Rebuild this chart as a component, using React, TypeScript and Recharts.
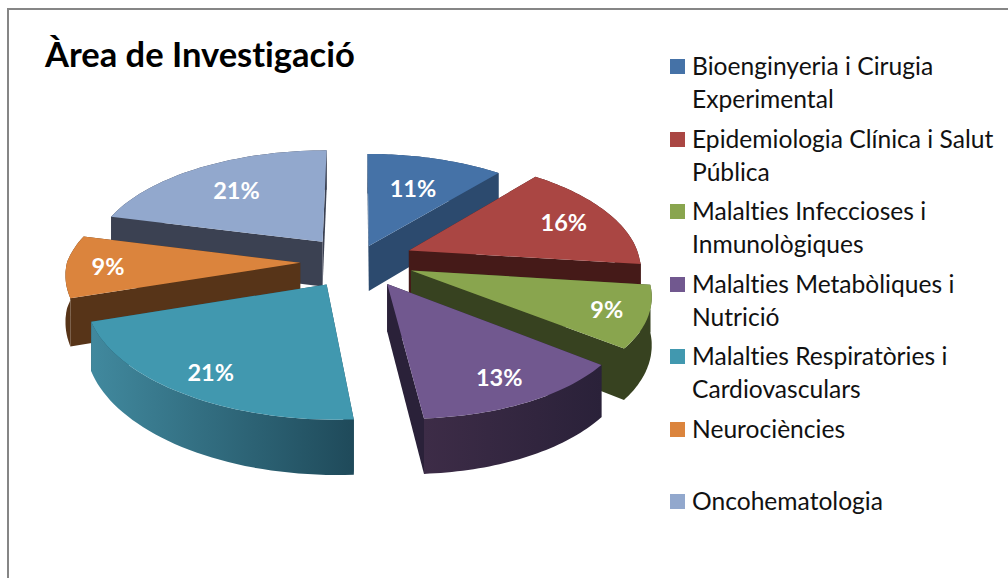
import React from 'react';
import { PieChart, Pie, Legend } from 'recharts';

const titleText = 'Àrea de Investigació';
const rightCategories = ['Bioenginyeria i Cirugia Experimental', 'Epidemiologia Clínica i Salut Pública', 'Malalties Infeccioses i Inmunològiques', 'Malalties Metabòliques i Nutrició'];
const rightValues = [11, 16, 9, 13];
const rightTops = ['#4572A7', '#AA4643', '#89A54E', '#71588F'];
const rightWallsA = ['#2C4A6E', '#451A18', '#374220', '#3D2C47'];
const rightWallsB = ['#2C4A6E', '#451A18', '#374220', '#2A2139'];
const leftCategories = ['Oncohematologia', 'Neurociències', 'Malalties Respiratòries i Cardiovasculars'];
const leftValues = [21, 9, 21];
const leftTops = ['#92A8CD', '#DB843D', '#4198AF'];
const leftWallsA = ['#3B4152', '#573418', '#41899E'];
const leftWallsB = ['#3B4152', '#573418', '#1F4A5A'];

const legendEntries = [
  { lines: ['Bioenginyeria i Cirugia', 'Experimental'], color: '#4572A7', top: 66 },
  { lines: ['Epidemiologia Clínica i Salut', 'Pública'], color: '#AA4643', top: 139 },
  { lines: ['Malalties Infeccioses i', 'Inmunològiques'], color: '#89A54E', top: 211 },
  { lines: ['Malalties Metabòliques i', 'Nutrició'], color: '#71588F', top: 284 },
  { lines: ['Malalties Respiratòries i', 'Cardiovasculars'], color: '#4198AF', top: 356 },
  { lines: ['Neurociències'], color: '#DB843D', top: 429 },
  { lines: ['Oncohematologia'], color: '#92A8CD', top: 501 },
];

const FONT = 'Lato, "Open Sans", sans-serif';
const SQUASH = 0.47;
const PERSP = 0.14;
const EXPLODE = 0.24;
const EXPLODE_FIRST = 0.14;
const DEPTH = 46;
const SKEW = 15;

const rightData = rightCategories.map((name, i) => ({ name, value: rightValues[i], top: rightTops[i], wallA: rightWallsA[i], wallB: rightWallsB[i] }));
const leftData = leftCategories.map((name, i) => ({ name, value: leftValues[i], top: leftTops[i], wallA: leftWallsA[i], wallB: leftWallsB[i] }));

const rad = (d: number) => (d * Math.PI) / 180;
const explodeOf = (mid: number) => (mid > 45 && mid < 90 ? EXPLODE_FIRST : EXPLODE);

function project(cx: number, cy: number, R: number, mid: number, angle: number, r: number, z: number) {
  const e = explodeOf(mid);
  const X = e * Math.cos(rad(mid)) + r * Math.cos(rad(angle));
  const F = -e * Math.sin(rad(mid)) - r * Math.sin(rad(angle));
  const s = 1 / (1 - PERSP * F);
  return [
    cx + R * X * s + SKEW * Math.max(0, F),
    cy + R * SQUASH * F * s + z * DEPTH * s,
  ];
}

const toPath = (pts: number[][]) => 'M' + pts.map((p) => p[0].toFixed(1) + ',' + p[1].toFixed(1)).join('L') + 'Z';

function Slice3D(props: any) {
  const { cx, cy, outerRadius, startAngle, endAngle, payload } = props;
  const item = payload ?? props;
  const mid = (startAngle + endAngle) / 2;
  const steps = 40;
  const arc = (z: number) => {
    const out: number[][] = [];
    for (let i = 0; i <= steps; i++) {
      out.push(project(cx, cy, outerRadius, mid, startAngle + ((endAngle - startAngle) * i) / steps, 1, z));
    }
    return out;
  };
  const topArc = arc(0);
  const bottomArc = arc(1);
  const apexTop = project(cx, cy, outerRadius, mid, mid, 0, 0);
  const apexBot = project(cx, cy, outerRadius, mid, mid, 0, 1);
  const id = 'wall-' + Math.round(mid + 400);
  const xs = topArc.map((p) => p[0]);
  return (
    <g>
      <defs>
        <linearGradient id={id} gradientUnits="userSpaceOnUse" x1={Math.min(...xs)} x2={Math.max(...xs)} y1={0} y2={0}>
          <stop offset="0" stopColor={item.wallA} />
          <stop offset="1" stopColor={item.wallB} />
        </linearGradient>
      </defs>
      <path d={toPath([apexTop, topArc[0], bottomArc[0], apexBot])} fill={item.wallB} />
      <path d={toPath([apexTop, topArc[steps], bottomArc[steps], apexBot])} fill={item.wallB} />
      <path d={toPath([...topArc, ...[...bottomArc].reverse()])} fill={`url(#${id})`} />
      <path d={toPath([apexTop, ...topArc])} fill={item.top} />
    </g>
  );
}

function SliceLabel(props: any) {
  const { cx, cy, outerRadius, midAngle, value } = props;
  const sinM = Math.sin(rad(midAngle));
  const cosM = Math.abs(Math.cos(rad(midAngle)));
  const r = 0.71 - 0.12 * Math.max(0, sinM) + 0.06 * Math.max(0, -sinM) + 0.11 * cosM;
  const [x, y] = project(cx, cy, outerRadius, midAngle, midAngle, r, 0);
  return (
    <text x={x} y={y} textAnchor="middle" dominantBaseline="central" fill="#fff" fontFamily={FONT} fontWeight={700} fontSize={23.5} style={{ fontVariantLigatures: 'none' }}>
      {value}%
    </text>
  );
}

function LegendContent() {
  return (
    <div style={{ position: 'relative', width: 340, height: 480, fontFamily: FONT, fontSize: 24.6, color: '#111', fontVariantLigatures: 'none' }}>
      {legendEntries.map((e) => (
        <React.Fragment key={e.lines[0]}>
          <div style={{ position: 'absolute', left: 10, top: e.top - 40 - 7, width: 15, height: 15, background: e.color }} />
          {e.lines.map((l, i) => (
            <div key={l} style={{ position: 'absolute', left: 32, top: e.top - 40 - 16 + i * 32.5, lineHeight: '32px', whiteSpace: 'nowrap' }}>{l}</div>
          ))}
        </React.Fragment>
      ))}
    </div>
  );
}

export default function App() {
  return (
    <div style={{ position: 'fixed', left: 0, top: 0, width: 1008, height: 578, overflow: 'hidden', background: '#fff' }}>
      <div style={{ position: 'absolute', left: 7, top: 8, right: -4, bottom: -4, borderLeft: '2px solid #868686', borderTop: '2px solid #868686' }} />
      <PieChart width={1008} height={578} margin={{ top: 0, right: 0, bottom: 0, left: 0 }}>
        <text x={45} y={67} fontFamily={FONT} fontWeight={700} fontSize={34.5} fill="#000" style={{ fontVariantLigatures: 'none' }}>{titleText}</text>
        <Pie data={leftData} dataKey="value" cx={356} cy={262} outerRadius={233} startAngle={90} endAngle={273.6} stroke="none" isAnimationActive={false} shape={Slice3D} label={SliceLabel} labelLine={false} />
        <Pie data={rightData} dataKey="value" cx={358} cy={260} outerRadius={231} startAngle={90} endAngle={-86.4} stroke="none" isAnimationActive={false} shape={Slice3D} label={SliceLabel} labelLine={false} />
        <Legend layout="vertical" content={<LegendContent />} wrapperStyle={{ position: 'absolute', left: 660, top: 40, width: 340, height: 480 }} />
      </PieChart>
    </div>
  );
}
